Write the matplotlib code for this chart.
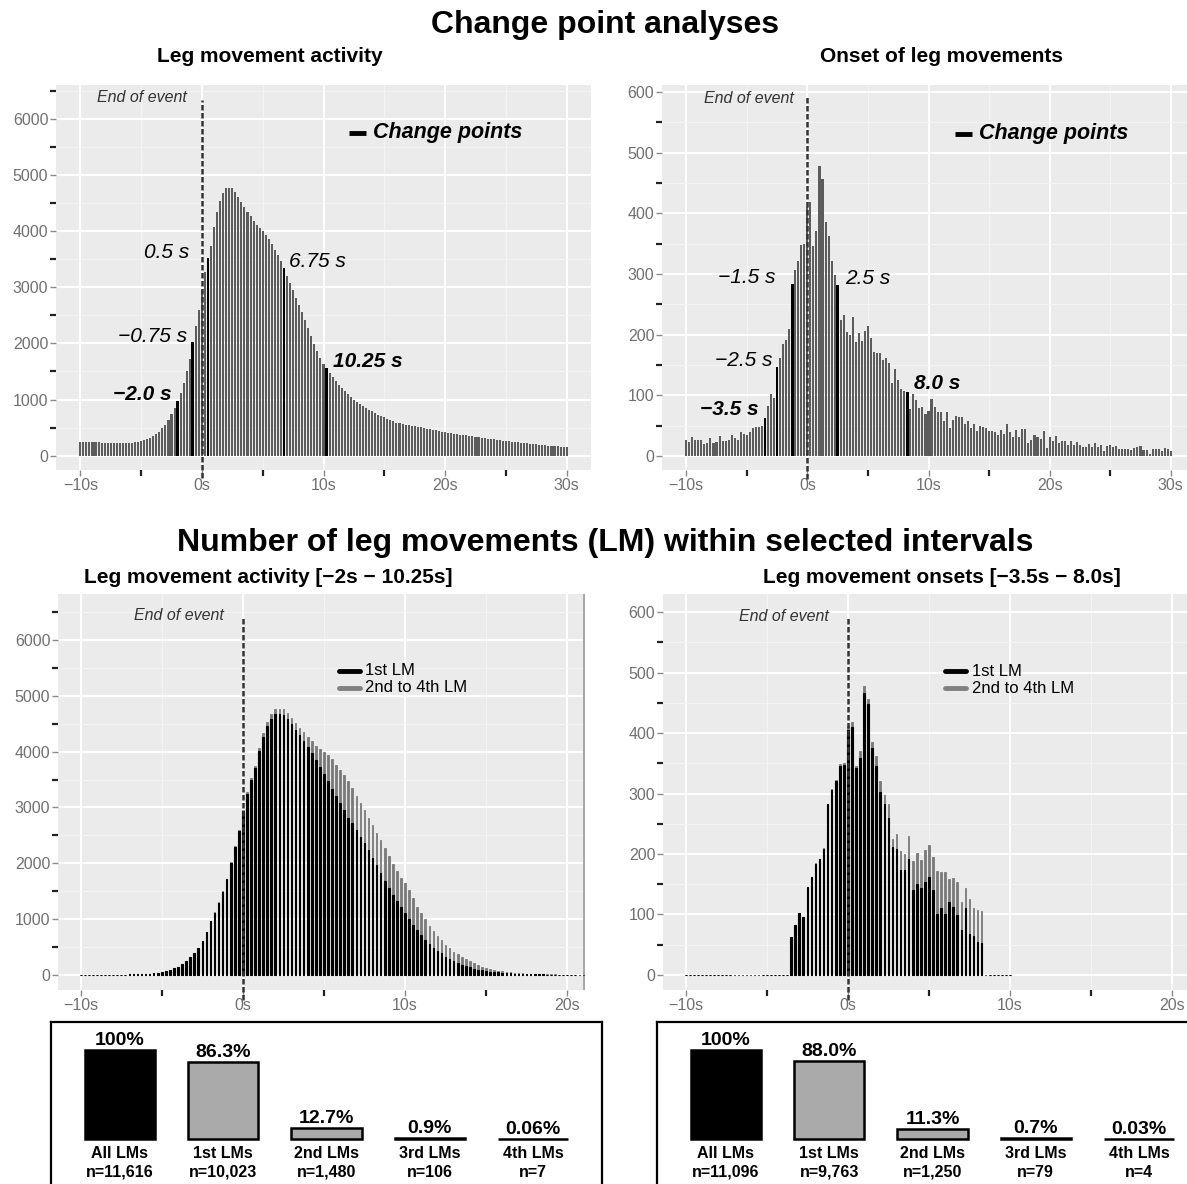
import numpy as np
import matplotlib.pyplot as plt

plt.rcParams['font.family'] = ['Liberation Sans', 'DejaVu Sans']

# ---------------- data ----------------
# top-left: leg movement activity, 0.25 s bins from -10 s to 30 s
activity_t = np.arange(-10, 30.001, 0.25)
activity = [
    245, 245, 248, 245, 243, 240, 238, 232, 228, 225, 222, 220,
    218, 218, 220, 222, 225, 230, 238, 245, 258, 272, 290, 315,
    345, 385, 430, 490, 555, 640, 740, 850, 970, 1120, 1300, 1500,
    1720, 2020, 2310, 2600, 2950, 3270, 3520, 3740, 4070, 4330, 4530, 4670,
    4760, 4770, 4770, 4700, 4610, 4510, 4420, 4345, 4260, 4185, 4110, 4055,
    3995, 3935, 3860, 3770, 3665, 3580, 3470, 3350, 3200, 3080, 2950, 2815,
    2680, 2550, 2415, 2280, 2130, 1990, 1860, 1745, 1640, 1565, 1480, 1400,
    1330, 1265, 1205, 1150, 1095, 1045, 1000, 960, 920, 885, 850, 820,
    790, 760, 730, 705, 680, 655, 630, 610, 590, 575, 560, 550,
    540, 530, 522, 512, 502, 492, 482, 472, 462, 450, 440, 430,
    420, 412, 402, 393, 385, 377, 368, 360, 352, 344, 336, 328,
    320, 312, 304, 297, 290, 283, 276, 268, 260, 254, 248, 242,
    236, 230, 224, 218, 212, 207, 202, 196, 190, 185, 180, 175,
    170, 165, 160, 155, 150,
]
activity_cp = [-2.0, -0.75, 0.5, 6.75, 10.25]

# top-right: onset of leg movements, 0.25 s bins from -10 s to 30 s
onset_t = np.arange(-10, 30.001, 0.25)
onset = [
    26, 23, 32, 26, 27, 26, 20, 21, 29, 22, 23, 33,
    24, 24, 27, 34, 29, 26, 40, 37, 35, 40, 46, 48,
    48, 49, 63, 82, 102, 95, 146, 162, 185, 192, 210, 283,
    307, 322, 348, 350, 411, 419, 346, 371, 478, 456, 386, 362,
    321, 298, 282, 225, 233, 205, 200, 229, 188, 202, 190, 206,
    215, 195, 172, 170, 170, 158, 161, 154, 120, 143, 125, 110,
    108, 105, 77, 102, 92, 80, 81, 69, 74, 94, 81, 72,
    72, 57, 72, 47, 60, 66, 64, 64, 53, 58, 46, 53,
    41, 49, 48, 47, 42, 41, 40, 34, 43, 37, 52, 39,
    32, 43, 31, 44, 44, 21, 27, 35, 31, 28, 42, 14,
    32, 25, 33, 21, 24, 24, 19, 24, 18, 23, 19, 15,
    15, 20, 15, 21, 15, 18, 9, 17, 19, 15, 17, 12,
    12, 12, 12, 10, 14, 15, 17, 10, 10, 4, 11, 11,
    11, 9, 13, 11, 9,
]
onset_cp = [-3.5, -2.5, -1.25, 2.5, 8.25]

# bottom-left: activity within [-2 s, 10.25 s], -10 s to 21 s
sel_act_t = np.arange(-10, 21.001, 0.25)
sel_act_total = [
    3, 3, 3, 3, 4, 4, 4, 5, 5, 6, 6, 7,
    8, 9, 11, 13, 18, 23, 29, 37, 48, 65, 89, 119,
    149, 190, 250, 315, 387, 476, 607, 774, 970, 1120, 1300, 1500,
    1720, 2020, 2310, 2600, 2950, 3270, 3520, 3740, 4070, 4330, 4530, 4670,
    4760, 4770, 4770, 4700, 4610, 4510, 4420, 4345, 4260, 4185, 4110, 4055,
    3995, 3935, 3860, 3770, 3665, 3580, 3470, 3350, 3200, 3080, 2950, 2815,
    2680, 2550, 2415, 2280, 2130, 1990, 1860, 1745, 1640, 1530, 1373, 1224,
    1104, 996, 878, 788, 699, 627, 537, 478, 418, 370, 328, 281,
    245, 210, 180, 150, 125, 103, 86, 72, 62, 52, 45, 38,
    32, 27, 23, 19, 16, 14, 12, 10, 9, 8, 7, 6,
    5, 5, 4, 4, 3,
]
sel_act_first = [
    3, 3, 3, 3, 4, 4, 4, 5, 5, 6, 6, 7,
    8, 9, 11, 13, 18, 23, 29, 37, 48, 65, 89, 119,
    149, 190, 250, 315, 387, 476, 607, 774, 968, 1117, 1296, 1494,
    1712, 2010, 2298, 2585, 2930, 3245, 3490, 3700, 4020, 4270, 4460, 4590,
    4670, 4675, 4650, 4580, 4490, 4390, 4290, 4190, 4080, 3970, 3850, 3730,
    3600, 3470, 3340, 3210, 3080, 2950, 2820, 2720, 2600, 2480, 2360, 2230,
    2100, 1970, 1830, 1690, 1560, 1430, 1330, 1220, 1110, 1010, 900, 805,
    716, 630, 555, 490, 437, 388, 330, 287, 250, 215, 185, 160,
    137, 115, 97, 84, 72, 60, 52, 45, 38, 32, 28, 24,
    20, 17, 14, 12, 10, 9, 8, 7, 6, 5, 5, 4,
    4, 3, 3, 3, 2,
]

# bottom-right: onsets within [-3.5 s, 8.0 s], -10 s to 10 s
sel_on_t = np.arange(-10, 10.001, 0.25)
sel_on_total = [0] * 26 + [
    63, 82, 102, 95, 146, 162, 185, 192, 210, 283, 307, 322,
    348, 350, 411, 419, 346, 371, 478, 456, 386, 362, 321, 298,
    282, 225, 233, 205, 200, 229, 188, 202, 190, 206, 215, 195,
    172, 170, 170, 158, 161, 154, 120, 143, 125, 110, 108, 105,
] + [0] * 7
sel_on_first = [0] * 26 + [
    63, 82, 102, 95, 146, 162, 184, 191, 209, 282, 306, 320,
    346, 347, 405, 410, 342, 358, 467, 448, 376, 346, 303, 282,
    259, 211, 209, 174, 174, 191, 141, 151, 144, 154, 162, 140,
    100, 110, 101, 121, 112, 99, 75, 110, 67, 65, 55, 53,
] + [0] * 7

# LM summary boxes
lm_cats = ['All LMs', '1st LMs', '2nd LMs', '3rd LMs', '4th LMs']
act_pct = [100, 86.3, 12.7, 0.9, 0.06]
act_pct_lab = ['100%', '86.3%', '12.7%', '0.9%', '0.06%']
act_n = ['n=11,616', 'n=10,023', 'n=1,480', 'n=106', 'n=7']
on_pct = [100, 88.0, 11.3, 0.7, 0.03]
on_pct_lab = ['100%', '88.0%', '11.3%', '0.7%', '0.03%']
on_n = ['n=11,096', 'n=9,763', 'n=1,250', 'n=79', 'n=4']

# ---------------- figure ----------------
W, H = 1187, 1184
fig = plt.figure(figsize=(W / 100, H / 100), dpi=100)


def px_axes(left, top, right, bottom):
    return fig.add_axes([left / W, 1 - bottom / H, (right - left) / W, (bottom - top) / H])


def gg_style(ax, xlim, ylim, xmaj, xlabels, xmin, ymaj, ymin):
    ax.set_facecolor('#ebebeb')
    for s in ax.spines.values():
        s.set_visible(False)
    ax.set_xlim(xlim)
    ax.set_ylim(ylim)
    ax.set_xticks(xmaj)
    ax.set_xticklabels(xlabels)
    ax.set_xticks(xmin, minor=True)
    ax.set_yticks(ymaj)
    ax.set_yticks(ymin, minor=True)
    ax.grid(which='major', color='white', lw=1.4)
    ax.grid(which='minor', color='#f4f4f4', lw=0.7)
    ax.set_axisbelow(True)
    ax.tick_params(which='major', length=4, width=1, color='#8a8a8a',
                   labelcolor='#707070', labelsize=11.5, pad=1.5)
    ax.tick_params(which='minor', length=4, width=1.6, color='#222222')


def end_of_event(ax, ytop, ybot, xt, yt):
    ax.plot([0, 0], [ybot, ytop], color='#333333', lw=1.8,
            ls=(0, (2.2, 1.0)), clip_on=False, zorder=4)
    ax.text(xt, yt, 'End of event', ha='right', va='center', style='italic',
            fontsize=11.5, color='#333333')


def change_plot(ax, t, vals, cps, bar_w):
    t = np.asarray(t)
    vals = np.asarray(vals)
    ax.bar(t, vals, width=bar_w, color='#5c5c5c', linewidth=0, zorder=2)
    idx = np.rint((np.asarray(cps) - t[0]) / 0.25).astype(int)
    ax.bar(t[idx], vals[idx], width=bar_w * 1.25, color='black', linewidth=0, zorder=3)


def stacked_plot(ax, t, total, first, bar_w):
    ax.bar(t, total, width=bar_w, color='#7a7a7a', edgecolor='#7a7a7a', linewidth=0.6, zorder=2)
    ax.bar(t, first, width=bar_w, color='black', edgecolor='black', linewidth=0.8, zorder=3)


xlab_top = ['\u221210s', '0s', '10s', '20s', '30s']
xlab_bot = ['\u221210s', '0s', '10s', '20s']
lbl = dict(fontsize=15, style='italic', va='center')

# ---- top-left ----
ax1 = px_axes(56, 85, 591, 470)
gg_style(ax1, (-12, 32), (-255, 6600), [-10, 0, 10, 20, 30], xlab_top, [-5, 5, 15, 25],
         np.arange(0, 6001, 1000), np.arange(500, 6501, 1000))
change_plot(ax1, activity_t, activity, activity_cp, 0.17)
end_of_event(ax1, 6330, -400, -1.2, 6370)
ax1.plot([12.1, 13.5], [5750, 5750], color='black', lw=3.5, solid_capstyle='butt')
ax1.text(14.1, 5750, 'Change points', ha='left', va='center', fontsize=15.5,
         fontweight='bold', style='italic')
ax1.text(-2.45, 1085, '\u22122.0 s', ha='right', fontweight='bold', **lbl)
ax1.text(-1.2, 2117, '\u22120.75 s', ha='right', **lbl)
ax1.text(-1.0, 3612, '0.5 s', ha='right', **lbl)
ax1.text(7.2, 3452, '6.75 s', ha='left', **lbl)
ax1.text(10.8, 1673, '10.25 s', ha='left', fontweight='bold', **lbl)

# ---- top-right ----
ax2 = px_axes(662, 85, 1195, 470)
gg_style(ax2, (-12, 32), (-23, 611.5), [-10, 0, 10, 20, 30], xlab_top, [-5, 5, 15, 25],
         np.arange(0, 601, 100), np.arange(50, 551, 100))
change_plot(ax2, onset_t, onset, onset_cp, 0.17)
end_of_event(ax2, 592, -38, -1.15, 590)
ax2.plot([12.2, 13.6], [531, 531], color='black', lw=3.5, solid_capstyle='butt')
ax2.text(14.2, 531, 'Change points', ha='left', va='center', fontsize=15.5,
         fontweight='bold', style='italic')
ax2.text(-4.0, 76, '\u22123.5 s', ha='right', fontweight='bold', **lbl)
ax2.text(-2.9, 157, '\u22122.5 s', ha='right', **lbl)
ax2.text(-2.6, 295, '\u22121.5 s', ha='right', **lbl)
ax2.text(3.1, 292, '2.5 s', ha='left', **lbl)
ax2.text(8.8, 119, '8.0 s', ha='left', fontweight='bold', **lbl)

# ---- bottom-left ----
ax3 = px_axes(58, 594, 585, 990)
gg_style(ax3, (-11.4, 21.1), (-270, 6825), [-10, 0, 10, 20], xlab_bot, [-5, 5, 15],
         np.arange(0, 6001, 1000), np.arange(500, 6501, 1000))
stacked_plot(ax3, sel_act_t, sel_act_total, sel_act_first, 0.1)
ax3.axvline(21.05, color='#a0a0a0', lw=1.3, zorder=1)
end_of_event(ax3, 6400, -450, -1.2, 6434)
ax3.plot([5.95, 7.2], [5448, 5448], color='black', lw=3.5, solid_capstyle='round')
ax3.plot([5.95, 7.2], [5143, 5143], color='#808080', lw=3.5, solid_capstyle='round')
ax3.text(7.55, 5448, '1st LM', va='center', fontsize=12)
ax3.text(7.55, 5143, '2nd to 4th LM', va='center', fontsize=12)

# ---- bottom-right ----
ax4 = px_axes(663, 594, 1190, 990)
gg_style(ax4, (-11.4, 21.1), (-25, 630), [-10, 0, 10, 20], xlab_bot, [-5, 5, 15],
         np.arange(0, 601, 100), np.arange(50, 551, 100))
stacked_plot(ax4, sel_on_t, sel_on_total, sel_on_first, 0.1)
end_of_event(ax4, 590, -42, -1.2, 593)
ax4.plot([6.0, 7.3], [502, 502], color='black', lw=3.5, solid_capstyle='round')
ax4.plot([6.0, 7.3], [474, 474], color='#808080', lw=3.5, solid_capstyle='round')
ax4.text(7.65, 502, '1st LM', va='center', fontsize=12)
ax4.text(7.65, 474, '2nd to 4th LM', va='center', fontsize=12)

# ---- titles ----
fig.text(605 / W, 1 - 25 / H, 'Change point analyses', ha='center', va='center',
         fontsize=23, fontweight='bold')
fig.text(270 / W, 1 - 57 / H, 'Leg movement activity', ha='center', va='center',
         fontsize=15, fontweight='bold')
fig.text(942 / W, 1 - 57 / H, 'Onset of leg movements', ha='center', va='center',
         fontsize=15, fontweight='bold')
fig.text(605 / W, 1 - 543 / H, 'Number of leg movements (LM) within selected intervals',
         ha='center', va='center', fontsize=23, fontweight='bold')
fig.text(268 / W, 1 - 577 / H, 'Leg movement activity [\u22122s \u2212 10.25s]', ha='center',
         va='center', fontsize=15, fontweight='bold')
fig.text(942 / W, 1 - 577 / H, 'Leg movement onsets [\u22123.5s \u2212 8.0s]', ha='center',
         va='center', fontsize=15, fontweight='bold')


# ---- LM summary boxes ----
def lm_box(left, pcts, pct_labels, ns):
    ax = px_axes(left, 1022, left + 551, 1194)
    px_per_pct = 0.89
    ax.set_xlim(-0.668, 4.668)
    ax.set_ylim(-(1194 - 1139) / px_per_pct, (1139 - 1022) / px_per_pct)
    ax.set_xticks([])
    ax.set_yticks([])
    for side in ['top', 'left', 'right']:
        ax.spines[side].set_linewidth(1.6)
    ax.spines['bottom'].set_visible(False)
    colors = ['black'] + ['#aaaaaa'] * 4
    pos = np.arange(len(pcts))
    ax.bar(pos, pcts, width=0.68, color=colors, edgecolor='black', linewidth=1.8)
    for i, (p, pl, n, c) in enumerate(zip(pcts, pct_labels, ns, lm_cats)):
        ax.text(i, p + 1.2, pl, ha='center', va='bottom', fontsize=14,
                fontweight='bold')
        ax.text(i, -16, c, ha='center', va='center', fontsize=11.5,
                fontweight='bold')
        ax.text(i, -37.5, n, ha='center', va='center', fontsize=11.5,
                fontweight='bold')


lm_box(51, act_pct, act_pct_lab, act_n)
lm_box(657, on_pct, on_pct_lab, on_n)

fig.savefig('out.png', dpi=100)
